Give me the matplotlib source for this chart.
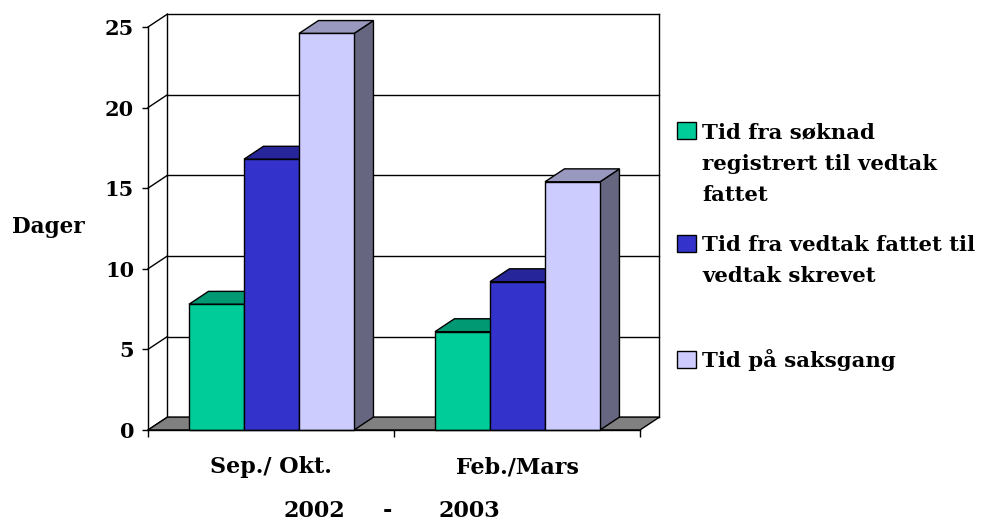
import matplotlib.pyplot as plt
from matplotlib.patches import Polygon, Rectangle

plt.rcParams['font.family'] = ['DejaVu Serif']
plt.rcParams['font.weight'] = 'bold'

# data
periods = ["Sep./ Okt.", "Feb./Mars"]
series = ["Tid fra søknad\nregistrert til vedtak\nfattet",
          "Tid fra vedtak fattet til\nvedtak skrevet",
          "Tid på saksgang"]
soknad_til_vedtak = [7.8, 6.1]
vedtak_til_skrevet = [16.8, 9.2]
saksgang = [24.6, 15.4]
values = [soknad_til_vedtak, vedtak_til_skrevet, saksgang]
yticks = [0, 5, 10, 15, 20, 25]

front_cols = ["#00CC99", "#3333CC", "#CCCCFF"]
top_cols = ["#009973", "#26269A", "#9999C0"]
side_cols = ["#007355", "#1A1A66", "#666680"]

# 3d look: depth offset in data units
dx, dy = 0.079, 0.8
bar_w = 0.2236
gap = 0.1667
lw = 1.0

fig = plt.figure(figsize=(10, 5.2), dpi=100)
ax = fig.add_axes([0.148, 90 / 520, 0.492, 403 / 520])
ax.set_xlim(0, 2)
ax.set_ylim(0, 25)
ax.patch.set_visible(False)

# back wall, floor and side wall lines
ymax = yticks[-1]
floor = Polygon([(0, 0), (2, 0), (2 + dx, dy), (dx, dy)], closed=True,
                facecolor="#808080", edgecolor="black", lw=lw, clip_on=False, zorder=1)
ax.add_patch(floor)
for t in yticks:
    ax.plot([dx, 2 + dx], [t + dy, t + dy], color="black", lw=lw, clip_on=False, zorder=0.5)
    ax.plot([0, dx], [t, t + dy], color="black", lw=lw, clip_on=False, zorder=0.5)
ax.plot([dx, dx], [dy, ymax + dy], color="black", lw=lw, clip_on=False, zorder=0.5)
ax.plot([2 + dx, 2 + dx], [dy, ymax + dy], color="black", lw=lw, clip_on=False, zorder=0.5)

# bars, drawn left to right so each front covers the previous side
z = 2
for i in range(len(periods)):
    for j, vals in enumerate(values):
        v = vals[i]
        x0 = i + gap + j * bar_w
        x1 = x0 + bar_w
        side = Polygon([(x1, 0), (x1 + dx, dy), (x1 + dx, v + dy), (x1, v)],
                       facecolor=side_cols[j], edgecolor="black", lw=lw, clip_on=False, zorder=z)
        top = Polygon([(x0, v), (x1, v), (x1 + dx, v + dy), (x0 + dx, v + dy)],
                      facecolor=top_cols[j], edgecolor="black", lw=lw, clip_on=False, zorder=z)
        front = Rectangle((x0, 0), bar_w, v, facecolor=front_cols[j],
                          edgecolor="black", lw=lw, clip_on=False, zorder=z + 0.5)
        ax.add_patch(side)
        ax.add_patch(top)
        ax.add_patch(front)
        z += 1

# axes
for s in ["top", "right"]:
    ax.spines[s].set_visible(False)
ax.spines["left"].set_linewidth(lw)
ax.spines["bottom"].set_linewidth(lw)
ax.spines["left"].set_zorder(20)
ax.spines["bottom"].set_zorder(20)
ax.set_yticks(yticks)
ax.set_yticklabels([str(t) for t in yticks], fontsize=15, fontweight="bold")
ax.tick_params(axis="y", direction="out", length=4.5, width=lw, pad=5.5)
ax.set_xticks([0, 1, 2])
ax.set_xticklabels([])
ax.tick_params(axis="x", direction="out", length=5, width=lw)
ax.set_xticks([0.5, 1.5], minor=True)
ax.set_xticklabels(periods, minor=True, fontsize=16, fontweight="bold")
ax.tick_params(axis="x", which="minor", length=0, pad=19)

fig.text(0.012, 1 - 233 / 520, "Dager", fontsize=15.5, fontweight="bold", va="baseline", ha="left")
fig.text(0.314, 1 - 517 / 520, "2002", fontsize=16, fontweight="bold", va="baseline", ha="center")
fig.text(0.387, 1 - 517 / 520, "-", fontsize=16, fontweight="bold", va="baseline", ha="center")
fig.text(0.469, 1 - 517 / 520, "2003", fontsize=16, fontweight="bold", va="baseline", ha="center")

# legend, one baseline per text line
leg_base = [138, 251, 367]
line_step = 31.5
for j, name in enumerate(series):
    base = leg_base[j]
    fig.patches.append(Rectangle((0.677, 1 - (base + 1) / 520), 0.019, 17 / 520,
                                 transform=fig.transFigure, facecolor=front_cols[j],
                                 edgecolor="black", lw=lw))
    for k, line in enumerate(name.split("\n")):
        fig.text(0.702, 1 - (base + k * line_step) / 520, line, fontsize=15.3,
                 fontweight="bold", va="baseline", ha="left")

fig.savefig("out.png", dpi=100)
